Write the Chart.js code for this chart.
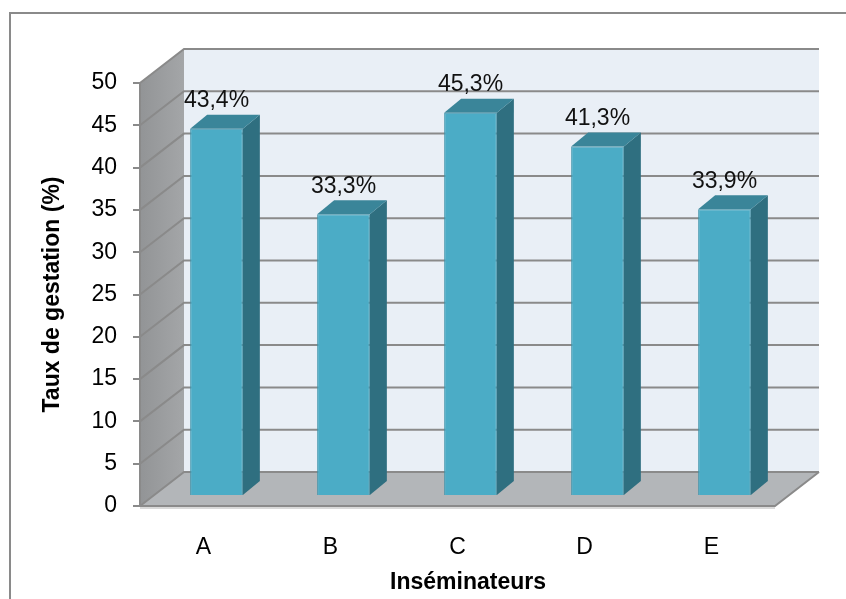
<!DOCTYPE html>
<html><head><meta charset="utf-8">
<script src="https://cdn.jsdelivr.net/npm/chart.js@4/dist/chart.umd.min.js"></script>
<style>html,body{margin:0;padding:0;background:#fff;}canvas{display:block}</style>
</head><body>
<canvas id="c" width="846" height="599"></canvas>
<script>
// ---- data ----
const categories = ['A', 'B', 'C', 'D', 'E'];
const values = [43.4, 33.3, 45.3, 41.3, 33.9];
const valueLabels = ['43,4%', '33,3%', '45,3%', '41,3%', '33,9%'];
const yMin = 0;
const yMax = 50;
const yStep = 5;
const xTitle = 'Inséminateurs';
const yTitle = 'Taux de gestation (%)';

// ---- styling / 3D geometry ----
const FONT = "'Liberation Sans', Arial, sans-serif";
const WALL = { dx: 44, dy: -34 };
const BAR_OFF = { dx: 13, dy: -10 };
const BAR_DEPTH = { dx: 17, dy: -14 };
const GRID = '#8a8a8a';

function tickValues(scale) { return scale.ticks.map(t => t.value); }

const scene3d = {
  id: 'scene3d',
  beforeDraw(chart) {
    const { ctx, chartArea: a, scales: { y } } = chart;
    ctx.save();
    ctx.fillStyle = '#fff';
    ctx.fillRect(0, 0, chart.width, chart.height);
    // outer border
    ctx.strokeStyle = '#8a8a8a'; ctx.lineWidth = 2;
    ctx.strokeRect(10, 13, 900, 700);
    const yTop = y.getPixelForValue(yMax), yBot = y.getPixelForValue(yMin);
    // back wall
    ctx.fillStyle = '#e9eff6';
    ctx.fillRect(a.left + WALL.dx, yTop + WALL.dy, a.right - a.left, yBot - yTop);
    // side wall
    const g = ctx.createLinearGradient(a.left, 0, a.left + WALL.dx, 0);
    g.addColorStop(0, '#929496'); g.addColorStop(1, '#a4a6a8');
    ctx.fillStyle = g;
    ctx.beginPath();
    ctx.moveTo(a.left, yTop); ctx.lineTo(a.left + WALL.dx, yTop + WALL.dy);
    ctx.lineTo(a.left + WALL.dx, yBot + WALL.dy); ctx.lineTo(a.left, yBot);
    ctx.closePath(); ctx.fill();
    // floor
    ctx.fillStyle = '#b3b6b9';
    ctx.beginPath();
    ctx.moveTo(a.left, yBot); ctx.lineTo(a.left + WALL.dx, yBot + WALL.dy);
    ctx.lineTo(a.right + WALL.dx, yBot + WALL.dy); ctx.lineTo(a.right, yBot);
    ctx.closePath(); ctx.fill();
    // gridlines on back wall and side wall
    ctx.strokeStyle = GRID; ctx.lineWidth = 2;
    tickValues(y).forEach(v => {
      const py = y.getPixelForValue(v);
      ctx.beginPath();
      ctx.moveTo(a.left, py); ctx.lineTo(a.left + WALL.dx, py + WALL.dy);
      ctx.lineTo(a.right + WALL.dx, py + WALL.dy);
      ctx.stroke();
    });
    // floor edges
    ctx.strokeStyle = '#d9d9d9'; ctx.lineWidth = 2;
    ctx.beginPath(); ctx.moveTo(a.left, yBot + 2); ctx.lineTo(a.right, yBot + 2); ctx.stroke();
    ctx.strokeStyle = GRID; ctx.lineWidth = 2;
    ctx.beginPath();
    ctx.moveTo(a.left, yBot); ctx.lineTo(a.right, yBot);
    ctx.lineTo(a.right + WALL.dx, yBot + WALL.dy);
    ctx.stroke();
    ctx.restore();
  },
  beforeDatasetsDraw(chart) {
    chart.ctx.save();
    chart.ctx.translate(BAR_OFF.dx, BAR_OFF.dy);
  },
  afterDatasetsDraw(chart) {
    const ctx = chart.ctx;
    const meta = chart.getDatasetMeta(0);
    meta.data.forEach(el => {
      const p = el.getProps(['x', 'y', 'base', 'width'], true);
      const l = p.x - p.width / 2, r = p.x + p.width / 2, t = p.y, b = p.base;
      // side face
      ctx.fillStyle = '#2f6f80';
      ctx.beginPath();
      ctx.moveTo(r, t); ctx.lineTo(r + BAR_DEPTH.dx, t + BAR_DEPTH.dy);
      ctx.lineTo(r + BAR_DEPTH.dx, b + BAR_DEPTH.dy); ctx.lineTo(r, b);
      ctx.closePath(); ctx.fill();
      // top face
      ctx.fillStyle = '#3a8599';
      ctx.beginPath();
      ctx.moveTo(l, t); ctx.lineTo(l + BAR_DEPTH.dx, t + BAR_DEPTH.dy);
      ctx.lineTo(r + BAR_DEPTH.dx, t + BAR_DEPTH.dy); ctx.lineTo(r, t);
      ctx.closePath(); ctx.fill();
    });
    ctx.restore();
    // value labels
    ctx.save();
    ctx.font = '23px ' + FONT;
    ctx.fillStyle = '#111';
    ctx.textAlign = 'center'; ctx.textBaseline = 'middle';
    meta.data.forEach((el, i) => {
      ctx.fillText(valueLabels[i], el.x + BAR_OFF.dx, el.y + BAR_OFF.dy - 28);
    });
    // x title
    ctx.font = 'bold 23px ' + FONT;
    ctx.fillStyle = '#000';
    ctx.fillText(xTitle, 468, 583);
    ctx.restore();
  }
};

new Chart(document.getElementById('c'), {
  type: 'bar',
  data: {
    labels: categories,
    datasets: [{
      data: values,
      backgroundColor: '#4bacc6',
      borderColor: '#3f93aa',
      borderWidth: 1,
      categoryPercentage: 1,
      barPercentage: 0.415
    }]
  },
  options: {
    responsive: false,
    animation: false,
    devicePixelRatio: 1,
    layout: { padding: { left: 0, top: 83, right: 71, bottom: 0 } },
    plugins: { legend: { display: false }, tooltip: { enabled: false } },
    scales: {
      x: {
        grid: { display: false, drawTicks: false },
        border: { display: false },
        ticks: { font: { size: 23, family: FONT }, color: '#000', padding: 28 },
        afterFit(s) { s.height = 93; }
      },
      y: {
        min: yMin, max: yMax,
        ticks: { stepSize: yStep, font: { size: 23, family: FONT }, color: '#000', padding: 16 },
        grid: { drawOnChartArea: false, drawTicks: true, tickLength: 7, color: GRID, lineWidth: 2 },
        border: { display: true, color: GRID, width: 2 },
        title: { display: true, text: yTitle, font: { size: 23, weight: 'bold', family: FONT }, color: '#000', padding: { top: 39, bottom: 0 } },
        afterFit(s) { s.width = 140; }
      }
    }
  },
  plugins: [scene3d]
});
</script>
</body></html>
